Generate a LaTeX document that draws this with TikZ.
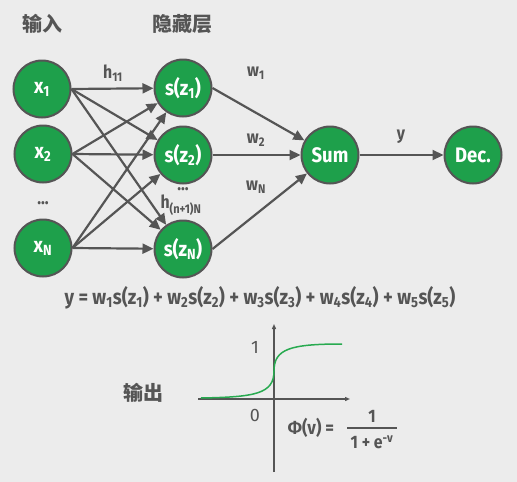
\documentclass[tikz,border=0pt]{standalone}
\usepackage{fontspec}
\setmainfont{Fira Sans}
\newfontfamily\condsans{Fira Sans}[FakeStretch=0.88]
\newfontfamily\cjk{Noto Sans CJK SC}
\usetikzlibrary{arrows.meta,positioning}
\definecolor{bggray}{RGB}{236,236,236}
\definecolor{nodegreen}{RGB}{30,160,75}
\definecolor{inkgray}{RGB}{85,85,85}
\definecolor{curvegreen}{RGB}{40,170,80}
\newcommand{\sub}[1]{\textsubscript{#1}}

\begin{document}
\begin{tikzpicture}[
    x=1pt, y=-1pt,
    neuron/.style={circle, draw=inkgray, line width=2pt, fill=nodegreen, minimum size=57pt, inner sep=0pt, text=white, font=\fontsize{21}{24}\condsans\bfseries},
    link/.style={draw=inkgray, line width=2.2pt, -{Triangle[length=11pt,width=10pt]}},
    lbl/.style={text=inkgray, font=\fontsize{18}{21}\condsans\bfseries},
    title/.style={text=inkgray, font=\fontsize{20}{23}\cjk\bfseries},
    axis/.style={draw=inkgray, line width=1.5pt, -{Triangle[length=5pt,width=4pt]}},
]

\useasboundingbox[fill=bggray] (0,0) rectangle (517,482);

% Layer titles
\node[title] (tin) at (42,24) {输入};
\node[title] (thid) at (182,24) {隐藏层};

% Input layer
\node[neuron] (x1) at (42,89) {x\sub{1}};
\node[neuron] (x2) at (43,154) {x\sub{2}};
\node[neuron] (xN) at (43,248) {x\sub{N}};
\node[lbl] (xdots) at (43,203) {...};

% Hidden layer
\node[neuron] (s1) at (183,88) {s(z\sub{1})};
\node[neuron] (s2) at (183,155) {s(z\sub{2})};
\node[neuron] (sN) at (183,249) {s(z\sub{N})};
\node[lbl] (sdots) at (183,189) {...};

% Output side
\node[neuron] (sum) at (330,155) {Sum};
\node[neuron] (dec) at (473,155) {Dec.};

% Input -> hidden, fully connected
\foreach \i in {x1,x2,xN}
  \foreach \j in {s1,s2,sN}
    \draw[link] (\i.east) -- (\j);

% Hidden -> sum -> decision
\foreach \j in {s1,s2,sN}
  \draw[link] (\j.east) -- (sum);
\draw[link] (sum) -- (dec);

% Weight labels
\node[lbl] (h11) at (113,73) {h\sub{11}};
\node[lbl] (hnN) at (181,205) {h\sub{(n+1)N}};
\node[lbl] (w1) at (256,73) {w\sub{1}};
\node[lbl] (w2) at (256,140) {w\sub{2}};
\node[lbl] (wN) at (256,187) {w\sub{N}};
\node[lbl] (y) at (401,137) {y};

% Output formula
\node[lbl, font=\fontsize{21}{24}\condsans\bfseries] (yeq) at (260,298)
  {y = w\sub{1}s(z\sub{1}) + w\sub{2}s(z\sub{2}) + w\sub{3}s(z\sub{3}) + w\sub{4}s(z\sub{4}) + w\sub{5}s(z\sub{5})};

% Activation plot
\node[title] (tout) at (143,393) {输出};
\coordinate (ox) at (198,399);
\coordinate (ex) at (350,399);
\coordinate (oy) at (274,472);
\coordinate (ey) at (274,324);
\draw[axis] (ox) -- (ex);
\draw[axis] (oy) -- (ey);
\node[lbl, font=\fontsize{18}{21}\selectfont] (one) at (255,347) {1};
\node[lbl, font=\fontsize{18}{21}\selectfont] (zero) at (255,415) {0};
\draw[curvegreen, line width=1.5pt] (201,398) .. controls (255,397) and (274,394) .. (274,371)
  .. controls (274,349) and (290,344) .. (342,344);

% Sigmoid formula
\node[lbl, font=\fontsize{19}{22}\condsans\bfseries] (phi) at (311,428) {Φ(v) =};
\node[lbl] (num) at (372,416) {1};
\node[lbl] (den) at (372,442) {1 + e\textsuperscript{-v}};
\draw[inkgray, line width=1.6pt] (den.west |- phi) -- (den.east |- phi);

\end{tikzpicture}
\end{document}
